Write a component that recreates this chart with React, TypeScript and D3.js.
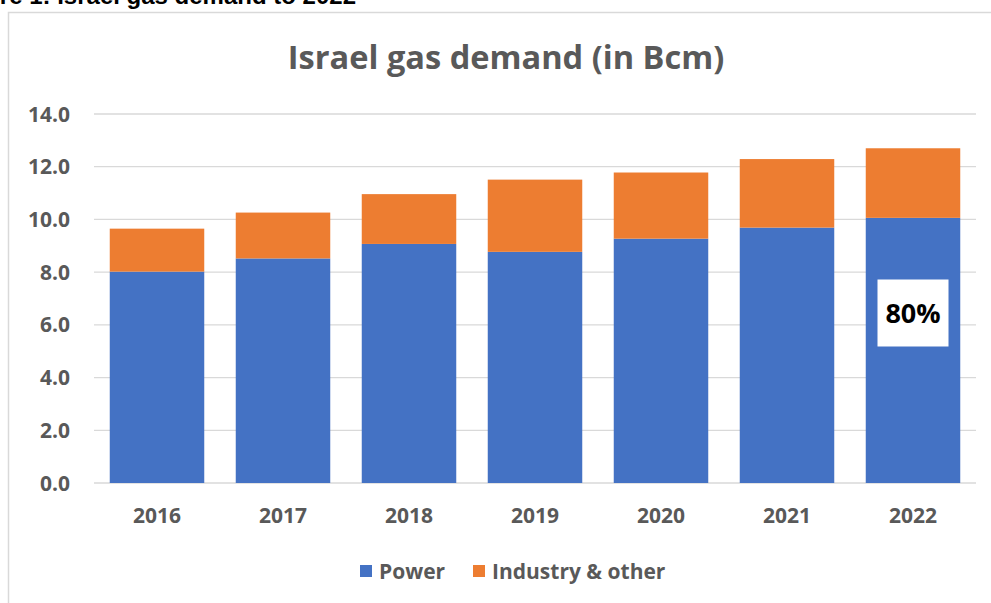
import React from 'react';
import * as d3 from 'd3';

const years = ['2016', '2017', '2018', '2019', '2020', '2021', '2022'];
const power = [8.02, 8.52, 9.07, 8.77, 9.27, 9.69, 10.06];
const industry = [1.63, 1.74, 1.89, 2.74, 2.51, 2.6, 2.64];
const yTicks = [0, 2, 4, 6, 8, 10, 12, 14];
const seriesNames = ['Power', 'Industry & other'];
const colors = ['#4472C4', '#ED7D31'];
const note = { year: '2022', value: 6.45, text: '80%' };

const W = 991;
const H = 603;
const margin = { top: 114, right: 15, bottom: 120, left: 94 };
const font = '"Open Sans", Lato, sans-serif';
const grey = '#595959';

export default function App() {
    const width = W - margin.left - margin.right;
    const height = H - margin.top - margin.bottom;

    const rows = years.map((y, i) => ({ year: y, power: power[i], industry: industry[i] }));
    const stacked = d3.stack<any>().keys(['power', 'industry'])(rows);

    const x = d3.scaleBand().domain(years).range([0, width]).paddingInner(0.25).paddingOuter(0.125);
    const y = d3.scaleLinear().domain([0, 14]).range([height, 0]);

    return (
        <svg width={W} height={H} style={{ position: 'absolute', left: 0, top: 0 }}>
            <rect width={W} height={H} fill="#fff" />
            {/* caption, cut off at the top of the page */}
            <text x={356} y={4} textAnchor="end" fontFamily='"Liberation Sans", Arial, sans-serif'
                  fontWeight="bold" fontSize={24} fill="#000">Figure 1: Israel gas demand to 2022</text>
            {/* chart frame */}
            <rect x={8.5} y={12.5} width={W + 20} height={H + 20} fill="none" stroke="#d9d9d9" strokeWidth={1.5} />

            <text x={506} y={69} textAnchor="middle" fontFamily={font} fontWeight="bold" fontSize={32.6} fill={grey}>
                Israel gas demand (in Bcm)
            </text>

            <g transform={`translate(${margin.left},${margin.top})`}>
                {yTicks.map(t => (
                    <g key={t}>
                        <line x1={0} x2={width} y1={y(t)} y2={y(t)} stroke="#d9d9d9" strokeWidth={1.3} />
                        <text x={-24} y={y(t)} dy="0.36em" textAnchor="end" fontFamily={font}
                              fontWeight="bold" fontSize={21} fill={grey}>{t.toFixed(1)}</text>
                    </g>
                ))}

                {stacked.map((s, si) => (
                    <g key={s.key} fill={colors[si]}>
                        {s.map((d, i) => (
                            <rect key={i} x={x(years[i])} width={x.bandwidth()}
                                  y={y(d[1])} height={y(d[0]) - y(d[1])} />
                        ))}
                    </g>
                ))}

                {years.map(yr => (
                    <text key={yr} x={(x(yr) as number) + x.bandwidth() / 2} y={height + 40}
                          textAnchor="middle" fontFamily={font} fontWeight="bold" fontSize={21} fill={grey}>{yr}</text>
                ))}

                <g transform={`translate(${(x(note.year) as number) + x.bandwidth() / 2},${y(note.value)})`}>
                    <rect x={-35.5} y={-33.5} width={71} height={67} fill="#fff" />
                    <text x={0} y={0} dy="0.36em" textAnchor="middle" fontFamily={font}
                          fontWeight="bold" fontSize={27} fill="#000">{note.text}</text>
                </g>
            </g>

            <g transform="translate(360,571)">
                <rect x={0} y={-6} width={12} height={12} fill={colors[0]} />
                <text x={19} y={0} dy="0.36em" fontFamily={font} fontWeight="bold" fontSize={21} fill={grey}>{seriesNames[0]}</text>
                <rect x={113} y={-6} width={12} height={12} fill={colors[1]} />
                <text x={132} y={0} dy="0.36em" fontFamily={font} fontWeight="bold" fontSize={21} fill={grey}>{seriesNames[1]}</text>
            </g>
        </svg>
    );
}
